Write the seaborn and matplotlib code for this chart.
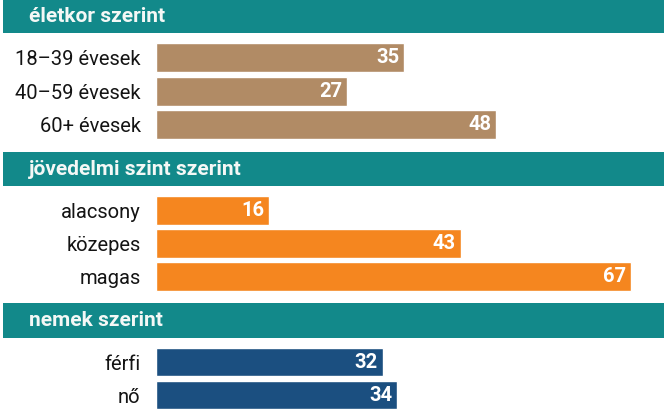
import matplotlib
matplotlib.use("Agg")
import matplotlib.pyplot as plt
import pandas as pd
import seaborn as sns

# Adatok
age_labels = ["18–39 évesek", "40–59 évesek", "60+ évesek"]
age_values = [35, 27, 48]
income_labels = ["alacsony", "közepes", "magas"]
income_values = [16, 43, 67]
gender_labels = ["férfi", "nő"]
gender_values = [32, 34]

headers = ["életkor szerint", "jövedelmi szint szerint", "nemek szerint"]
colors = ["#b18b65", "#f5861f", "#1b4f80"]
teal = "#12898a"

sns.set_theme(style="white")
plt.rcParams["font.family"] = ["Roboto", "DejaVu Sans"]

W, H = 666, 415
fig = plt.figure(figsize=(W / 100, H / 100), dpi=100)
fig.patch.set_facecolor("white")

X0 = 156          # bal széle a sávoknak
PX_PER_UNIT = 7.09
xmax = (W - X0) / PX_PER_UNIT


def rect(x, top, w, h):
    return [x / W, 1 - (top + h) / H, w / W, h / H]


# fejlécek (px: top, height)
header_boxes = [(0, 33), (152, 34), (303, 35)]
for text, (top, h) in zip(headers, header_boxes):
    hax = fig.add_axes(rect(3, top, W - 5, h))
    hax.set_facecolor(teal)
    hax.set_xticks([])
    hax.set_yticks([])
    for s in hax.spines.values():
        s.set_visible(False)
    hax.text(26 / (W - 5), 0.5, text, color="#f4f8f6", fontsize=15,
             fontweight="bold", va="center", ha="left",
             transform=hax.transAxes)

# csoportok (px: top, pitch)
groups = [
    (age_labels, age_values, colors[0], 41, 33.5),
    (income_labels, income_values, colors[1], 194, 33),
    (gender_labels, gender_values, colors[2], 345.5, 33),
]
for labels, values, color, top, pitch in groups:
    df = pd.DataFrame({"kategoria": labels, "ertek": values})
    ax = fig.add_axes(rect(X0, top, W - X0, pitch * len(labels)))
    sns.barplot(data=df, x="ertek", y="kategoria", color=color,
                width=0.87, saturation=1, ax=ax)
    ax.set_xlim(0, xmax)
    ax.set_xlabel("")
    ax.set_ylabel("")
    ax.set_xticks([])
    ax.tick_params(axis="y", length=0, pad=11, labelsize=14.5)
    for lab in ax.get_yticklabels():
        lab.set_color("#141414")
    for s in ax.spines.values():
        s.set_visible(False)
    ax.patch.set_alpha(0)
    for bar, v in zip(ax.patches, values):
        ax.text(bar.get_width() - 0.7, bar.get_y() + bar.get_height() / 2,
                f"{v}", color="white", fontsize=14.5, fontweight="bold",
                ha="right", va="center")

fig.savefig("out.png", dpi=100, facecolor="white")
